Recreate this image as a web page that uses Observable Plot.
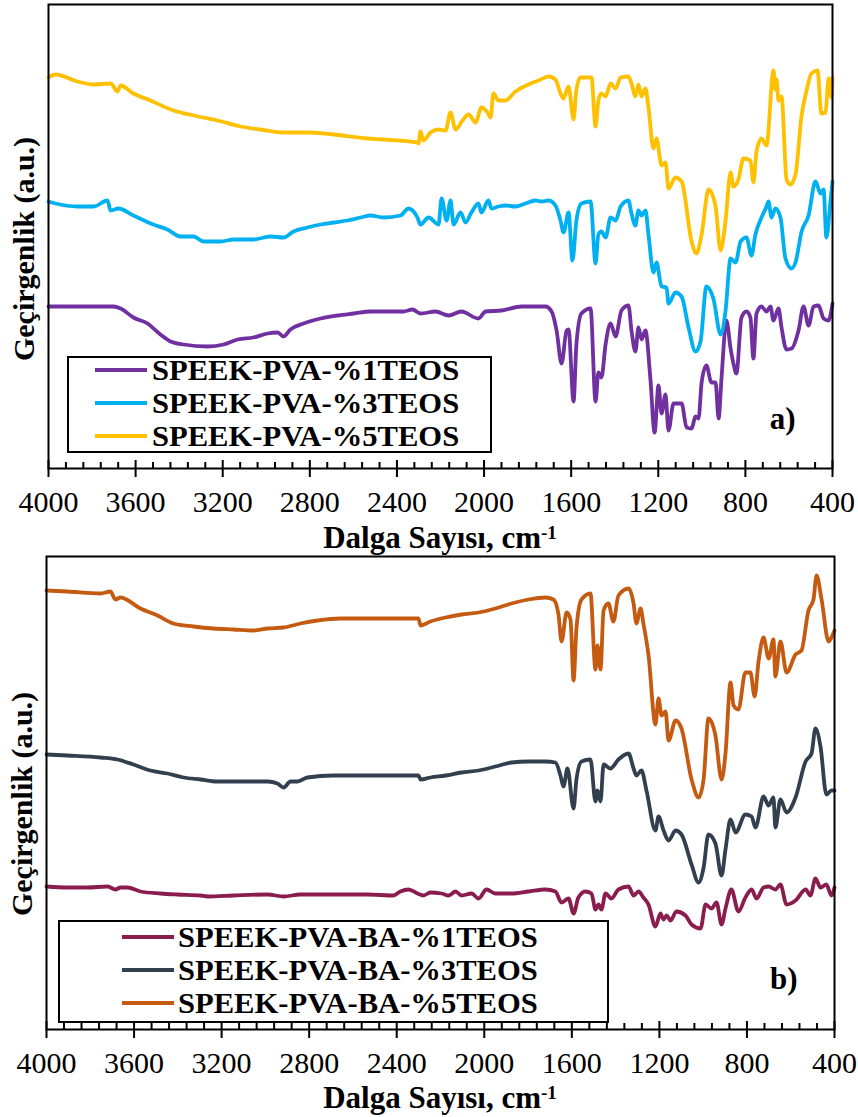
<!DOCTYPE html>
<html>
<head>
<meta charset="utf-8">
<script src="https://cdn.jsdelivr.net/npm/d3@7"></script>
<script src="https://cdn.jsdelivr.net/npm/@observablehq/plot@0.6"></script>
<style>
  body { margin: 0; background: #fff; }
  #page { position: relative; width: 858px; height: 1117px; overflow: hidden; font-family: "Liberation Serif", "DejaVu Serif", "Noto Serif", "Times New Roman", serif; color: #000; background: #fff; }
  .plot { position: absolute; left: 0; }
  .legend { position: absolute; border: 2px solid #000; background: #fff; box-sizing: border-box; }
  .swatch { position: absolute; height: 4px; }
  .ltext { position: absolute; font-weight: bold; font-size: 29px; line-height: 26px; height: 26px; white-space: nowrap; transform: scaleX(1.055); transform-origin: 0 50%; }
  .xtitle { position: absolute; font-weight: bold; font-size: 31px; line-height: 1; white-space: nowrap; transform: translate(-50%, -50%); }
  .xtitle sup { font-size: 19px; vertical-align: 0; position: relative; top: -9px; }
  .ytitle { position: absolute; font-weight: bold; font-size: 30px; line-height: 1; white-space: nowrap; transform: translate(-50%, -50%) rotate(-90deg); }
</style>
</head>
<body>
<div id="page"></div>
<script>
// ---- Tick values (wavenumber, cm-1) ----
const majorTicks = [4000, 3600, 3200, 2800, 2400, 2000, 1600, 1200, 800, 400];
const minorTicks = d3.range(3920, 400, -80).filter(v => v % 400 !== 0);

// ---- Series names & colours ----
const namesA = ["SPEEK-PVA-%1TEOS", "SPEEK-PVA-%3TEOS", "SPEEK-PVA-%5TEOS"];
const colorsA = ["#7030A0", "#00B0F0", "#FFC000"];
const namesB = ["SPEEK-PVA-BA-%1TEOS", "SPEEK-PVA-BA-%3TEOS", "SPEEK-PVA-BA-%5TEOS"];
const colorsB = ["#8A1C4E", "#323F4F", "#C55A11"];

// ---- Panel a) spectra: [wavenumber, transmittance (a.u., offset)] ----
const specA1 = [[4000,162],[3839,162],[3702,162],[3669,160],[3610,151],[3545,145],[3486,134],[3440,127],[3380,124],[3270,122],[3196,124],[3132,129],[3059,131],[2994,135],[2948,136],[2921,132],[2889,139],[2829,145],[2751,150],[2673,153],[2599,155],[2521,157],[2443,157],[2370,157],[2329,159],[2292,155],[2223,157],[2163,153],[2104,157],[2026,150],[1993,157],[1920,158],[1828,162],[1718,162],[1690,157],[1667,138],[1644,105],[1621,138],[1612,139],[1589,67],[1576,124],[1553,155],[1511,160],[1488,67],[1475,96],[1461,91],[1442,124],[1419,145],[1396,132],[1369,158],[1337,163],[1323,138],[1305,117],[1291,141],[1277,129],[1259,138],[1236,89],[1217,36],[1199,83],[1185,55],[1167,74],[1153,38],[1130,65],[1093,65],[1070,41],[1047,40],[1029,52],[1015,50],[1001,86],[979,103],[956,86],[937,86],[923,50],[910,89],[887,148],[868,120],[855,105],[841,95],[818,151],[795,157],[777,151],[763,110],[749,155],[726,162],[703,157],[685,162],[671,148],[648,160],[634,141],[611,119],[588,120],[556,138],[533,162],[510,143],[487,162],[464,163],[441,150],[418,148],[400,165]];
const specA3 = [[4000,267],[3968,265],[3867,262],[3793,262],[3729,268],[3715,258],[3679,260],[3610,253],[3518,244],[3454,239],[3394,232],[3334,232],[3288,227],[3210,227],[3150,229],[3059,229],[2981,232],[2921,231],[2875,237],[2811,241],[2751,244],[2691,246],[2627,248],[2567,251],[2521,253],[2462,251],[2384,253],[2347,260],[2306,251],[2292,244],[2255,251],[2209,244],[2195,270],[2172,248],[2154,268],[2140,244],[2108,256],[2085,246],[2058,256],[2026,265],[2012,256],[1980,268],[1966,260],[1934,262],[1902,263],[1856,262],[1810,265],[1764,268],[1736,267],[1704,268],[1672,263],[1649,248],[1635,236],[1612,256],[1594,208],[1576,248],[1553,265],[1511,267],[1488,205],[1475,234],[1461,237],[1442,231],[1419,251],[1396,248],[1373,262],[1337,268],[1323,255],[1305,243],[1291,258],[1277,253],[1259,258],[1245,234],[1222,196],[1208,206],[1185,182],[1162,181],[1153,165],[1121,176],[1093,172],[1061,141],[1029,117],[1006,127],[979,182],[946,169],[914,134],[891,158],[868,210],[845,206],[822,227],[795,231],[772,213],[754,234],[726,251],[703,262],[694,267],[680,251],[662,260],[639,251],[616,210],[588,200],[570,206],[542,237],[510,253],[478,287],[455,275],[441,279],[428,231],[409,268],[400,287]];
const specA5 = [[4000,391],[3968,394],[3867,387],[3793,384],[3715,385],[3683,377],[3669,383],[3610,375],[3532,368],[3426,358],[3334,353],[3224,348],[3118,342],[3027,339],[2921,336],[2811,336],[2691,334],[2535,330],[2462,329],[2306,326],[2301,325],[2292,337],[2278,328],[2246,336],[2209,339],[2177,338],[2154,356],[2131,339],[2099,348],[2071,354],[2039,346],[2012,361],[1984,356],[1970,351],[1957,375],[1934,368],[1902,368],[1856,377],[1796,384],[1750,388],[1704,392],[1672,389],[1649,375],[1635,370],[1612,382],[1589,349],[1576,379],[1557,391],[1507,391],[1488,342],[1475,368],[1461,375],[1442,372],[1419,385],[1396,380],[1373,391],[1337,392],[1323,385],[1305,372],[1291,384],[1277,372],[1259,380],[1245,361],[1222,320],[1208,330],[1185,303],[1167,306],[1153,280],[1121,291],[1093,287],[1047,227],[1024,215],[1001,234],[969,279],[937,262],[914,218],[891,248],[868,296],[855,282],[832,289],[809,310],[777,308],[763,286],[749,317],[726,330],[703,323],[671,398],[662,379],[657,389],[648,368],[634,372],[611,289],[593,284],[570,294],[542,353],[519,378],[497,395],[469,398],[451,355],[432,356],[418,390],[405,371],[400,391]];

// ---- Panel b) spectra ----
const specB1 = [[4000,143],[3904,142],[3813,142],[3721,143],[3685,140],[3662,142],[3630,142],[3571,138],[3479,136],[3402,135],[3296,134],[3264,133],[3146,134],[2990,135],[2917,133],[2840,135],[2689,135],[2534,135],[2415,134],[2383,138],[2346,140],[2305,136],[2278,134],[2246,137],[2195,136],[2163,134],[2131,138],[2104,134],[2058,136],[2026,131],[1990,140],[1949,136],[1876,136],[1798,138],[1720,140],[1675,138],[1647,127],[1615,131],[1592,116],[1570,132],[1538,138],[1510,136],[1492,120],[1478,125],[1465,120],[1446,136],[1419,131],[1387,140],[1341,143],[1318,134],[1295,138],[1273,132],[1250,125],[1218,103],[1195,116],[1181,110],[1167,114],[1149,109],[1122,118],[1081,114],[1053,105],[1012,101],[989,125],[962,121],[939,127],[916,105],[898,121],[871,140],[839,118],[807,132],[779,140],[756,131],[724,142],[701,143],[670,140],[647,145],[619,125],[578,129],[532,140],[510,134],[487,151],[464,142],[437,145],[414,134],[400,142]];
const specB3 = [[4000,275],[3904,274],[3753,272],[3676,270],[3603,265],[3525,259],[3447,256],[3374,252],[3296,250],[3219,248],[3146,248],[3054,248],[2990,248],[2945,246],[2917,242],[2885,248],[2853,248],[2808,252],[2689,254],[2534,254],[2383,254],[2301,254],[2291,250],[2246,252],[2177,254],[2104,257],[2026,259],[1949,263],[1876,267],[1798,268],[1720,268],[1675,267],[1652,254],[1638,243],[1620,261],[1592,221],[1579,250],[1556,268],[1515,270],[1492,228],[1483,239],[1469,228],[1455,265],[1424,261],[1387,270],[1341,276],[1318,261],[1305,254],[1282,259],[1259,239],[1218,199],[1204,213],[1181,199],[1158,189],[1126,199],[1099,195],[1053,165],[1021,147],[998,162],[976,195],[944,186],[916,154],[898,180],[875,210],[852,197],[807,215],[779,213],[761,202],[724,233],[701,224],[679,232],[670,202],[647,230],[619,217],[578,232],[532,268],[505,276],[487,301],[464,283],[437,235],[414,239],[400,239]];
const specB5 = [[4000,439],[3904,438],[3753,436],[3708,438],[3685,430],[3662,432],[3571,421],[3493,414],[3420,406],[3328,403],[3237,401],[3146,400],[3054,399],[2990,401],[2917,402],[2840,406],[2762,409],[2657,411],[2533,411],[2383,411],[2301,411],[2291,404],[2246,408],[2177,412],[2104,415],[2026,417],[1949,421],[1876,426],[1798,430],[1720,432],[1684,430],[1661,415],[1647,388],[1624,417],[1606,410],[1592,349],[1579,401],[1556,430],[1515,436],[1492,360],[1483,384],[1469,360],[1455,419],[1433,426],[1410,408],[1387,434],[1341,441],[1318,426],[1305,406],[1286,421],[1273,406],[1250,375],[1218,305],[1204,331],[1190,314],[1172,318],[1158,289],[1126,309],[1099,301],[1053,250],[1021,232],[998,250],[976,311],[944,294],[916,250],[898,276],[875,347],[861,324],[839,320],[807,357],[784,357],[765,333],[747,368],[724,392],[701,371],[679,390],[670,353],[647,388],[619,357],[578,375],[551,379],[519,419],[496,430],[482,454],[459,430],[427,388],[414,392],[400,399]];

const xTitleHTML = "Dalga Sayısı, cm<sup>-1</sup>";
const yTitle = "Geçirgenlik (a.u.)";
const serifStack = "'Liberation Serif', 'DejaVu Serif', 'Noto Serif', 'Times New Roman', serif";

const page = document.getElementById("page");

function panel({specs, colors, yMax, height, marginTop, marginBottom, marginLeft, marginRight, tag, tagDy}) {
  const innerH = height - marginTop - marginBottom;
  return Plot.plot({
    width: 858, height, marginTop, marginBottom, marginLeft, marginRight,
    style: {fontFamily: serifStack, fontSize: "30px", color: "#000", background: "transparent", overflow: "visible"},
    x: {domain: [4000, 400], ticks: majorTicks, tickSize: 0, tickPadding: 22, tickFormat: d => String(d), label: null},
    y: {domain: [0, yMax], axis: null},
    marks: [
      Plot.tickX(minorTicks, {x: d => d, stroke: "#000", strokeWidth: 2, insetTop: innerH - 6}),
      Plot.tickX(majorTicks, {x: d => d, stroke: "#000", strokeWidth: 2, insetTop: innerH - 8, insetBottom: -9}),
      ...specs.map((s, i) => Plot.line(s, {x: d => d[0], y: d => d[1], stroke: colors[i], strokeWidth: 3.8, curve: "monotone-x", strokeLinejoin: "round"})),
      Plot.frame({stroke: "#000", strokeWidth: 2}),
      Plot.text([tag], {text: d => d, frameAnchor: "bottom-right", dx: -37, dy: tagDy, textAnchor: "end", fontSize: 31, fontWeight: "bold", fill: "#000"})
    ]
  });
}

function place(el, top) { el.classList.add("plot"); el.style.top = top + "px"; page.appendChild(el); }

place(panel({specs: [specA1, specA3, specA5], colors: colorsA, yMax: 464, height: 545, marginTop: 4, marginBottom: 77, marginLeft: 48, marginRight: 26, tag: "a)", tagDy: -40}), 0);
place(panel({specs: [specB1, specB3, specB5], colors: colorsB, yMax: 473, height: 572, marginTop: 11, marginBottom: 88, marginLeft: 46, marginRight: 24, tag: "b)", tagDy: -41}), 545);

function legend({names, colors, left, top, width, height, rows, swL, swR, textL}) {
  const box = document.createElement("div");
  box.className = "legend";
  Object.assign(box.style, {left: left + "px", top: top + "px", width: width + "px", height: height + "px"});
  names.forEach((n, i) => {
    const sw = document.createElement("div");
    sw.className = "swatch";
    Object.assign(sw.style, {left: (swL - left - 2) + "px", width: (swR - swL) + "px", top: (rows[i] - top - 2 - 2) + "px", background: colors[i]});
    box.appendChild(sw);
    const t = document.createElement("div");
    t.className = "ltext";
    t.textContent = n;
    Object.assign(t.style, {left: (textL - left - 2) + "px", top: (rows[i] - top - 2 - 13) + "px"});
    box.appendChild(t);
  });
  page.appendChild(box);
}
legend({names: namesA, colors: colorsA, left: 67, top: 356, width: 425, height: 97, rows: [370, 403, 436], swL: 95, swR: 147, textL: 152});
legend({names: namesB, colors: colorsB, left: 58, top: 920, width: 551, height: 103, rows: [937, 970, 1003], swL: 122, swR: 174, textL: 178});

function title(cls, html, x, y) {
  const d = document.createElement("div");
  d.className = cls;
  d.innerHTML = html;
  d.style.left = x + "px";
  d.style.top = y + "px";
  page.appendChild(d);
}
title("xtitle", xTitleHTML, 440, 537);
title("xtitle", xTitleHTML, 440, 1097);
title("ytitle", yTitle, 24, 249);
title("ytitle", yTitle, 22, 804);
</script>
</body>
</html>
